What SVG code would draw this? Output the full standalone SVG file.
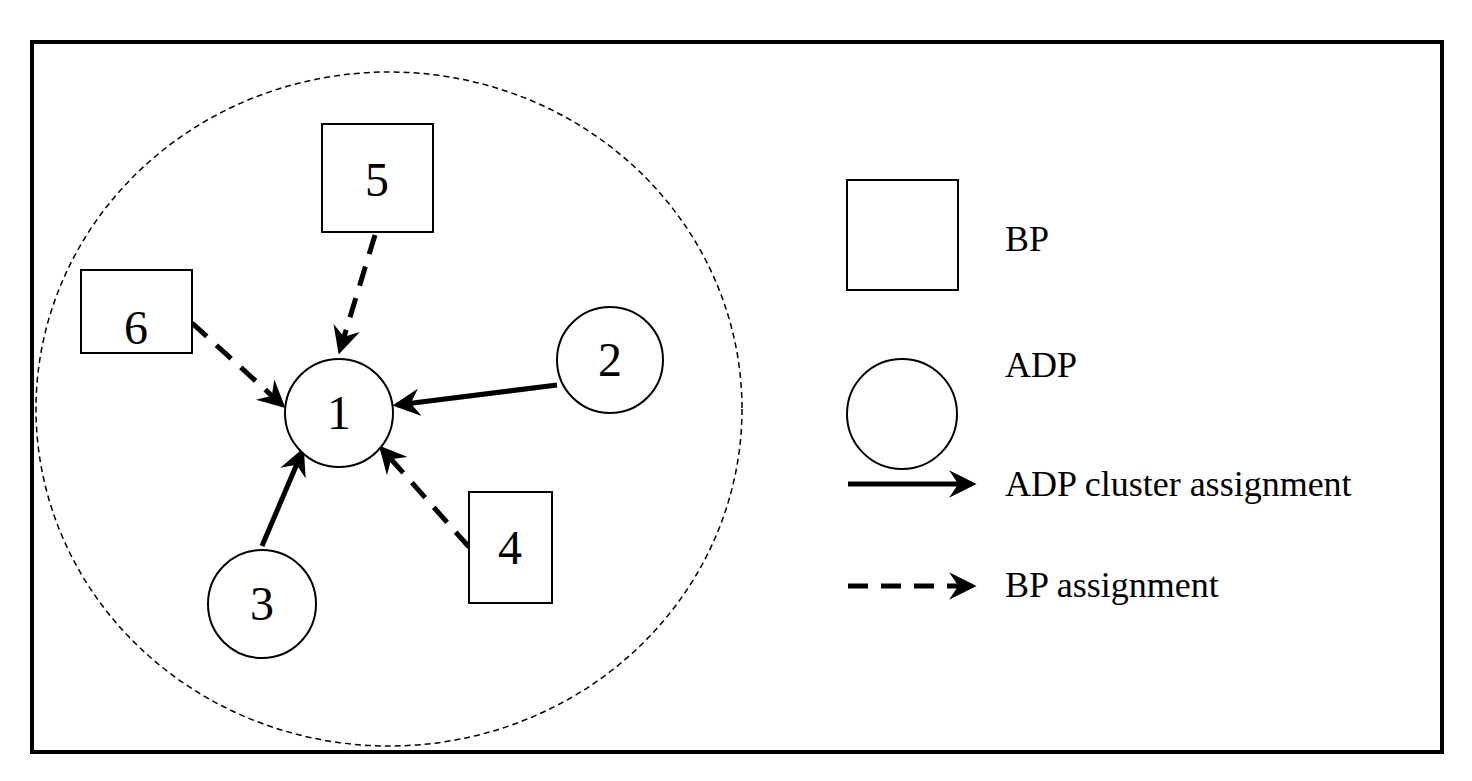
<svg xmlns="http://www.w3.org/2000/svg" width="1472" height="781" viewBox="0 0 1472 781">
<style>
.n{fill:#fff;stroke:#000;stroke-width:2}
.t{font-family:"Liberation Serif",serif;font-size:48px;text-anchor:middle;fill:#000}
.l{font-family:"Liberation Serif",serif;font-size:36px;fill:#000}
.s{stroke:#000;stroke-width:5;fill:none;marker-end:url(#a)}
.d{stroke:#000;stroke-width:5;fill:none;stroke-dasharray:20 13;marker-end:url(#a)}
</style>
<defs><marker id="a" viewBox="0 0 12 12" refX="10" refY="6" markerWidth="5.5" markerHeight="5.5" orient="auto" markerUnits="strokeWidth"><path d="M0,0 L12,6 L0,12 L4,6 z" fill="#000"/></marker></defs>
<rect x="32" y="42" width="1410" height="710" fill="#fff" stroke="#000" stroke-width="4"/>
<ellipse cx="389" cy="409" rx="353" ry="337" fill="none" stroke="#000" stroke-width="1.5" stroke-dasharray="6 4"/>
<g id="connectors">
<path class="d" d="M375,235 L340,350"/>
<path class="d" d="M192,323 L282,405"/>
<path class="s" d="M557,385 L397,405"/>
<path class="s" d="M262,546 L302,452"/>
<path class="d" d="M469,547 L382,449"/>
<path class="s" d="M848,484 L972,484"/>
<path class="d" d="M848,586 L972,586"/>
</g>
<g id="n1"><circle class="n" cx="339" cy="413" r="54"/><text class="t" x="339" y="429">1</text></g>
<g id="n2"><circle class="n" cx="610" cy="360" r="53"/><text class="t" x="610" y="376">2</text></g>
<g id="n3"><circle class="n" cx="262" cy="604" r="54"/><text class="t" x="262" y="620">3</text></g>
<g id="n4"><rect class="n" x="469" y="492" width="83" height="111"/><text class="t" x="510" y="564">4</text></g>
<g id="n5"><rect class="n" x="322" y="124" width="111" height="108"/><text class="t" x="377" y="196">5</text></g>
<g id="n6"><rect class="n" x="81" y="270" width="111" height="83"/><text class="t" x="136" y="344">6</text></g>
<g id="legend">
<rect class="n" x="847" y="180" width="111" height="110"/>
<circle class="n" cx="902" cy="414" r="55"/>
<text class="l" x="1005" y="251">BP</text>
<text class="l" x="1005" y="377">ADP</text>
<text class="l" x="1005" y="496">ADP cluster assignment</text>
<text class="l" x="1005" y="597">BP assignment</text>
</g>
</svg>
